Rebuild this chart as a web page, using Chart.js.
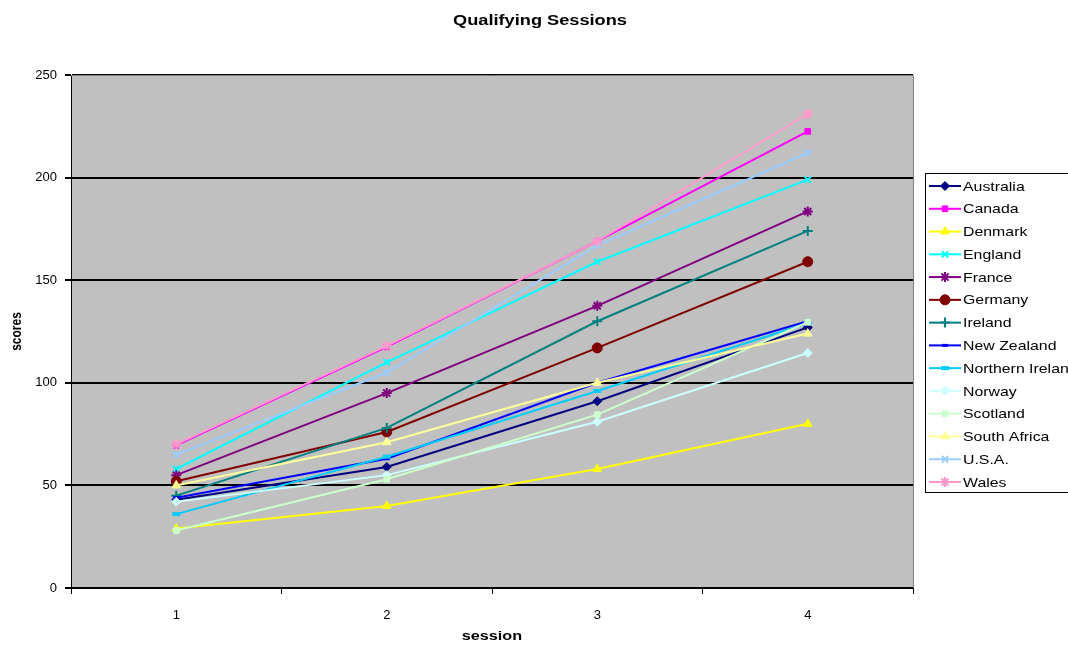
<!DOCTYPE html>
<html>
<head>
<meta charset="utf-8">
<title>Qualifying Sessions</title>
<script src="https://cdn.jsdelivr.net/npm/chart.js@4/dist/chart.umd.min.js"></script>
<style>
  body { margin: 0; background: #fff; }
  #wrap { width: 1068px; height: 646px; }
</style>
</head>
<body>
<div id="wrap"><canvas id="qualChart" width="1068" height="646"></canvas></div>
<script>
const sessions = ['1', '2', '3', '4'];
const yTicks = [0, 50, 100, 150, 200, 250];

const australia = [43, 59, 91, 127];
const canada = [69.5, 117.5, 169, 222.5];
const denmark = [29, 40, 58, 80];
const england = [58, 110, 159, 199];
const france = [55, 95, 137.5, 183.5];
const germany = [52, 76, 117, 159];
const ireland = [45, 78, 130, 174];
const newZealand = [44, 63, 100, 130];
const northernIreland = [36, 64, 96, 129];
const norway = [42, 55, 81, 114.5];
const scotland = [28, 53, 84.5, 129.5];
const southAfrica = [50, 71, 100, 124];
const usa = [65, 105, 167, 212];
const wales = [70, 118, 169, 231];

const countries = ['Australia', 'Canada', 'Denmark', 'England', 'France', 'Germany', 'Ireland',
    'New Zealand', 'Northern Ireland', 'Norway', 'Scotland', 'South Africa', 'U.S.A.', 'Wales'];
const seriesData = [australia, canada, denmark, england, france, germany, ireland,
    newZealand, northernIreland, norway, scotland, southAfrica, usa, wales];
const colors = ['#000080', '#FF00FF', '#FFFF00', '#00FFFF', '#800080', '#800000', '#008080',
    '#0000FF', '#00CCFF', '#CCFFFF', '#CCFFCC', '#FFFF99', '#99CCFF', '#FF99CC'];
const markers = ['rectRot', 'rect', 'triangle', 'crossRot', 'star', 'circle', 'cross',
    'line', 'line', 'rectRot', 'rect', 'triangle', 'crossRot', 'star'];
const markerRadius = [4.5, 4, 5, 4.5, 5, 5, 5, 3, 4, 4.5, 4, 5, 4.5, 5];
const markerWidth = [1, 1, 1, 2, 2, 1, 2, 3, 4, 1, 1, 1, 2, 2];

const FONT = '"Liberation Sans", Arial, sans-serif';

const datasets = countries.map((name, i) => ({
    label: name,
    data: seriesData[i],
    borderColor: colors[i],
    backgroundColor: colors[i],
    borderWidth: 2,
    tension: 0,
    fill: false,
    pointStyle: markers[i],
    pointRadius: markerRadius[i],
    pointHoverRadius: markerRadius[i],
    pointBorderWidth: markerWidth[i],
    pointBackgroundColor: colors[i],
    pointBorderColor: colors[i],
    order: countries.length - i
}));

// the reference text is a bit wider than plain Arial, so stretch it sideways
function wideText(ctx, text, x, y, font, sx, align) {
    ctx.save();
    ctx.translate(x, y);
    ctx.scale(sx, 1);
    ctx.font = font;
    ctx.textAlign = align || 'center';
    ctx.textBaseline = 'middle';
    ctx.fillText(text, 0, 0);
    ctx.restore();
}

// plot background, titles and the Excel-style legend box
const excelLook = {
    id: 'excelLook',
    beforeDraw(chart) {
        const { ctx, chartArea } = chart;
        ctx.save();
        ctx.fillStyle = '#C0C0C0';
        ctx.fillRect(chartArea.left, chartArea.top, chartArea.right - chartArea.left, chartArea.bottom - chartArea.top);
        ctx.restore();
    },
    afterDraw(chart) {
        const { ctx, chartArea } = chart;
        ctx.save();
        ctx.strokeStyle = '#808080';
        ctx.lineWidth = 1;
        ctx.beginPath();
        ctx.moveTo(chartArea.left, chartArea.top + 0.5);
        ctx.lineTo(chartArea.right + 0.5, chartArea.top + 0.5);
        ctx.lineTo(chartArea.right + 0.5, chartArea.bottom);
        ctx.stroke();

        ctx.fillStyle = '#000';
        wideText(ctx, 'Qualifying Sessions', 540, 21, 'bold 14px ' + FONT, 1.3);
        wideText(ctx, 'session', (chartArea.left + chartArea.right) / 2, 637, 'bold 12px ' + FONT, 1.35);

        ctx.save();
        ctx.translate(17, (chartArea.top + chartArea.bottom) / 2);
        ctx.scale(1.25, 1);
        ctx.rotate(-Math.PI / 2);
        ctx.font = 'bold 12px ' + FONT;
        ctx.textAlign = 'center';
        ctx.textBaseline = 'middle';
        ctx.fillText('scores', 0, 0);
        ctx.restore();

        // legend
        const boxX = 925.5, boxY = 173.5, boxW = 150, boxH = 319;
        ctx.fillStyle = '#fff';
        ctx.fillRect(boxX, boxY, boxW, boxH);
        ctx.strokeStyle = '#000';
        ctx.lineWidth = 1;
        ctx.strokeRect(boxX, boxY, boxW, boxH);
        const step = 22.77;
        countries.forEach((name, i) => {
            const y = 186 + i * step;
            ctx.strokeStyle = colors[i];
            ctx.fillStyle = colors[i];
            ctx.lineWidth = 2;
            ctx.beginPath();
            ctx.moveTo(929, y);
            ctx.lineTo(961, y);
            ctx.stroke();
            ctx.lineWidth = markerWidth[i];
            Chart.helpers.drawPoint(ctx, {
                pointStyle: markers[i],
                radius: markerRadius[i],
                borderWidth: markerWidth[i],
                rotation: 0
            }, 945, y);
            ctx.fillStyle = '#000';
            wideText(ctx, name, 963, y + 1, '13px ' + FONT, 1.22, 'left');
        });
        ctx.restore();
    }
};

const qualCtx = document.getElementById('qualChart').getContext('2d');
const qualChart = new Chart(qualCtx, {
    type: 'line',
    data: {
        labels: sessions,
        datasets: datasets
    },
    options: {
        responsive: false,
        animation: false,
        layout: {
            padding: { top: 75, right: 155, left: 0, bottom: 0 }
        },
        plugins: {
            legend: { display: false },
            title: { display: false },
            tooltip: { enabled: false }
        },
        scales: {
            x: {
                offset: true,
                grid: {
                    offset: true,
                    drawOnChartArea: false,
                    drawTicks: true,
                    tickLength: 6,
                    color: '#000'
                },
                border: { color: '#000', width: 1 },
                ticks: {
                    color: '#000',
                    font: { family: FONT, size: 13 },
                    padding: 14,
                    maxRotation: 0
                },
                afterFit(scale) { scale.height = 58; }
            },
            y: {
                min: 0,
                max: 250,
                afterBuildTicks(scale) { scale.ticks = yTicks.map(v => ({ value: v })); },
                grid: {
                    color: '#000',
                    lineWidth: 2,
                    drawTicks: true,
                    tickLength: 6
                },
                border: { color: '#000', width: 1 },
                ticks: {
                    color: '#000',
                    font: { family: FONT, size: 13 },
                    padding: 8
                },
                afterFit(scale) { scale.width = 71; }
            }
        }
    },
    plugins: [excelLook]
});
</script>
</body>
</html>
